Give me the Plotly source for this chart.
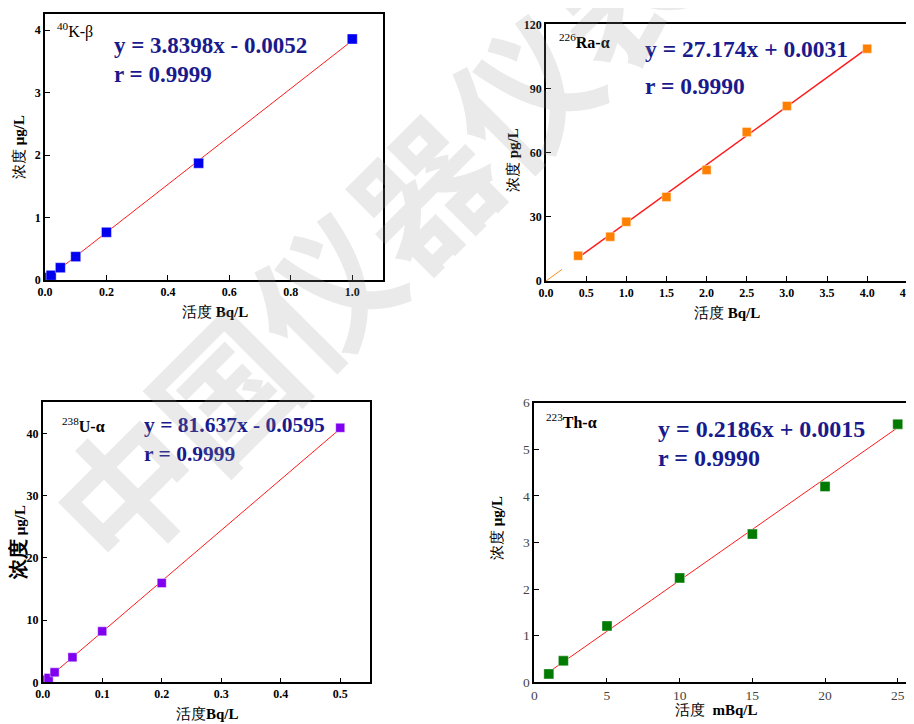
import plotly.graph_objects as go

# page body has an 8px margin; the figure is drawn 8px smaller and all
# reference pixel positions are shifted by that offset
OFF = 8
W, H = 914 - OFF, 724 - OFF

# ---------------- data ----------------
k_x = [0.01, 0.02, 0.05, 0.1, 0.2, 0.5, 1.0]
k_y = [0.04, 0.075, 0.197, 0.374, 0.764, 1.87, 3.86]
k_fit = (3.8398, -0.0052)
k_eq = ["y = 3.8398x - 0.0052", "r = 0.9999"]

ra_x = [0.4, 0.8, 1.0, 1.5, 2.0, 2.5, 3.0, 4.0]
ra_y = [11.8, 20.7, 27.7, 39.3, 51.9, 69.7, 81.8, 108.6]
ra_fit = (27.174, 0.0031)
ra_eq = ["y = 27.174x + 0.0031", "r = 0.9990"]

u_x = [0.005, 0.01, 0.02, 0.05, 0.1, 0.2, 0.5]
u_y = [0.4, 0.7, 1.6, 4.02, 8.19, 15.95, 40.9]
u_fit = (81.637, -0.0595)
u_eq = ["y = 81.637x - 0.0595", "r = 0.9999"]

th_x = [1, 2, 5, 10, 15, 20, 25]
th_y = [0.18, 0.46, 1.21, 2.24, 3.18, 4.2, 5.54]
th_fit = (0.2186, 0.0015)
th_eq = ["y = 0.2186x + 0.0015", "r = 0.9990"]

k_xticks = [0.0, 0.2, 0.4, 0.6, 0.8, 1.0]
k_yticks = [0, 1, 2, 3, 4]
ra_xticks = [0.0, 0.5, 1.0, 1.5, 2.0, 2.5, 3.0, 3.5, 4.0, 4.5]
ra_yticks = [0, 30, 60, 90, 120]
u_xticks = [0.0, 0.1, 0.2, 0.3, 0.4, 0.5]
u_yticks = [0, 10, 20, 30, 40]
th_xticks = [0, 5, 10, 15, 20, 25]
th_yticks = [0, 1, 2, 3, 4, 5, 6]

SERIF = "Liberation Serif"


def px(x, y):
    return (x - OFF) / W, 1 - (y - OFF) / H


def fit_line(fit, x0, x1):
    m, b = fit
    return [x0, x1], [m * x0 + b, m * x1 + b]


fig = go.Figure()

panels = [
    dict(box=(45, 14, 383, 280), xr=[0, 1.1], yr=[0, 4.26], xt=k_xticks, yt=k_yticks,
         xfmt=".1f", bold=True, tcolor="black"),
    dict(box=(546, 24.3, 907.3, 281), xr=[0, 4.5], yr=[0, 120], xt=ra_xticks, yt=ra_yticks,
         xfmt=".1f", bold=True, tcolor="black"),
    dict(box=(42.7, 402.3, 370, 682.3), xr=[0, 0.55], yr=[0, 45], xt=u_xticks, yt=u_yticks,
         xfmt=".1f", bold=True, tcolor="black"),
    dict(box=(534.3, 402.7, 913, 682.3), xr=[0, 26.05], yr=[0, 6], xt=th_xticks, yt=th_yticks,
         xfmt="d", bold=False, tcolor="#444444"),
]

layout_axes = {}
for i, p in enumerate(panels):
    n = "" if i == 0 else str(i + 1)
    x0, y0, x1, y1 = p["box"]
    dx0, dy1 = px(x0, y1)
    dx1, dy0 = px(x1, y0)
    tf = dict(family=SERIF, size=12 if p["bold"] else 13.5, color=p["tcolor"],
              weight="bold" if p["bold"] else "normal")
    common = dict(ticks="inside", ticklen=5, tickwidth=1.2, tickcolor="black",
                  showline=True, linecolor="black", linewidth=1.5, mirror=True,
                  showgrid=False, zeroline=False, tickfont=tf, fixedrange=True,
                  automargin=False, ticklabeloverflow="allow")
    layout_axes["xaxis" + n] = dict(
        domain=[max(dx0, 0), min(dx1, 1)], range=p["xr"], anchor="y" + n,
        tickvals=p["xt"], tickformat=p["xfmt"], **common)
    layout_axes["yaxis" + n] = dict(
        domain=[max(dy1, 0), min(dy0, 1)], range=p["yr"], anchor="x" + n,
        tickvals=p["yt"], **common)


def add_panel(i, xs, ys, fit, lx0, lx1, mcolor, msize, lwidth=1):
    n = "" if i == 0 else str(i + 1)
    lx, ly = fit_line(fit, lx0, lx1)
    fig.add_trace(go.Scatter(x=lx, y=ly, mode="lines", line=dict(color="#ff1a1a", width=lwidth),
                             xaxis="x" + n, yaxis="y" + n, showlegend=False, hoverinfo="skip"))
    fig.add_trace(go.Scatter(x=xs, y=ys, mode="markers",
                             marker=dict(symbol="square", size=msize, color=mcolor,
                                         line=dict(color="rgba(255,255,255,0.5)", width=0.8)),
                             xaxis="x" + n, yaxis="y" + n, showlegend=False))


add_panel(0, k_x, k_y, k_fit, 0.0, 1.0, "#0000ee", 10)
ox, oy = fit_line(ra_fit, 0.0, 0.2)
fig.add_trace(go.Scatter(x=ox, y=oy, mode="lines", line=dict(color="#ff8c1a", width=1),
                         xaxis="x2", yaxis="y2", showlegend=False, hoverinfo="skip"))
add_panel(1, ra_x, ra_y, ra_fit, 0.4, 4.0, "#ff8000", 9, lwidth=1.5)
add_panel(2, u_x, u_y, u_fit, 0.0, 0.5, "#8000f0", 9)
add_panel(3, th_x, th_y, th_fit, 1, 25, "#007a00", 10)

ann = []


def text(x, y, s, size, color="black", bold=False, angle=0, xanchor="center", family=SERIF):
    ax, ay = px(x, y)
    ann.append(dict(x=ax, y=ay, xref="paper", yref="paper", text=s, showarrow=False,
                    xanchor=xanchor, yanchor="middle", textangle=angle,
                    font=dict(family=family, size=size, color=color,
                              weight="bold" if bold else "normal")))


NAVY = "#1a1a8c"
text(112, 45, k_eq[0], 23, NAVY, True, xanchor="left")
text(112, 74, k_eq[1], 23, NAVY, True, xanchor="left")
text(643, 49, ra_eq[0], 23.5, NAVY, True, xanchor="left")
text(643, 86, ra_eq[1], 23.5, NAVY, True, xanchor="left")
text(142, 425, u_eq[0], 21.5, NAVY, True, xanchor="left")
text(142, 454, u_eq[1], 21.5, NAVY, True, xanchor="left")
text(656, 429, th_eq[0], 24, NAVY, True, xanchor="left")
text(656, 458, th_eq[1], 24, NAVY, True, xanchor="left")

text(55, 31, "<sup>40</sup>K-β", 16, xanchor="left")
text(557, 41, "<sup>226</sup><b>Ra-α</b>", 16, xanchor="left")
text(60, 425, "<sup>238</sup><b>U-α</b>", 16, xanchor="left")
text(544, 421, "<sup>223</sup><b>Th-α</b>", 16, xanchor="left")

text(215, 312, "活度 <b>Bq/L</b>", 15)
text(19, 147, "浓度 <b>μg/L</b>", 15, angle=-90)
text(727, 313, "活度 <b>Bq/L</b>", 15)
text(513, 160, "浓度 <b>pg/L</b>", 15, angle=-90)
text(207, 714, "活度<b>Bq/L</b>", 15)
text(18, 543, "<b><span style='font-size:20px'>浓度</span> μg/L</b>", 15, angle=-90)
text(716, 710, "活度  <b>mBq/L</b>", 15)
text(497, 528, "浓度 <b>μg/L</b>", 15, angle=-90)

# watermark
wx, wy = px(370, 238)
ann.append(dict(x=wx, y=wy, xref="paper", yref="paper", text="中国仪器仪表", showarrow=False,
                xanchor="center", yanchor="middle", textangle=-45,
                font=dict(family="Noto Sans CJK SC", size=140, color="rgba(150,150,150,0.2)",
                          weight="bold")))

fig.update_layout(
    width=W, height=H, margin=dict(l=0, r=0, t=0, b=0, pad=0, autoexpand=False),
    paper_bgcolor="white", plot_bgcolor="white",
    annotations=ann, **layout_axes)

fig.write_html("out.html")
